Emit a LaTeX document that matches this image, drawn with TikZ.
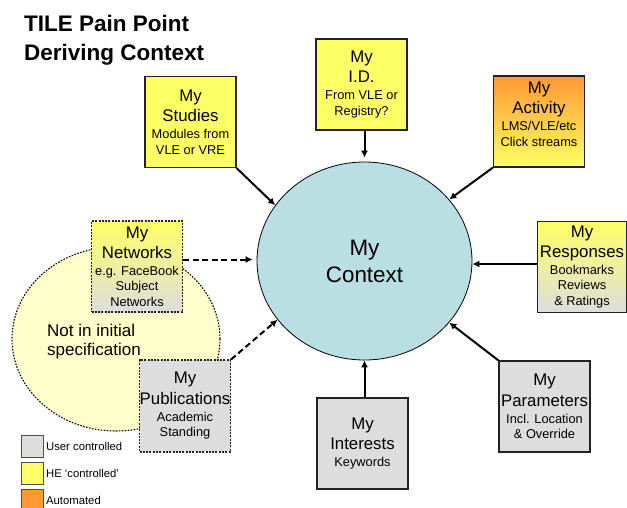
\documentclass[tikz,border=0pt]{standalone}
\usepackage{fontspec}
\setmainfont{Liberation Sans}
\usetikzlibrary{shapes.geometric,arrows.meta}
\definecolor{heyel}{HTML}{FFFF66}
\definecolor{usergray}{HTML}{DDDDDD}
\definecolor{autoor}{HTML}{FF9933}
\definecolor{ctxblue}{HTML}{B9DFE3}
\definecolor{notyel}{HTML}{FFFFCC}
\definecolor{boxline}{HTML}{222222}
\newcommand\BTf{\fontsize{16.8}{20.5}\selectfont}
\newcommand\STf{\fontsize{12.8}{15}\selectfont}
\tikzset{
  ctxbox/.style={draw=boxline, line width=1.1pt, minimum width=91pt, minimum height=91pt,
    inner sep=0pt, align=center, font=\BTf},
  userbox/.style={ctxbox, fill=usergray},
  hebox/.style={ctxbox, fill=heyel},
  autobox/.style={ctxbox, top color=autoor, bottom color=heyel},
  mixbox/.style={ctxbox, top color=heyel, bottom color=usergray},
  dotbox/.style={dash pattern=on 2pt off 1.3pt},
  feed/.style={line width=2pt, -{Latex[length=7pt,width=7pt]}},
  feeddash/.style={feed, dash pattern=on 6pt off 3.5pt},
  legsq/.style={draw=boxline!80, line width=0.9pt, minimum width=22pt, minimum height=22pt, inner sep=0pt},
  leglab/.style={anchor=west, inner sep=0pt, font=\fontsize{11.3}{13}\selectfont}
}
\begin{document}
\begin{tikzpicture}[x=1pt,y=-1pt]
\useasboundingbox (0,0) rectangle (627,507);

% title
\node[anchor=north west, inner sep=0pt, align=left, font=\bfseries\fontsize{22.5}{29}\selectfont] (title) at (24,14.9) {TILE Pain Point\\Deriving Context};

% region not in initial specification
\node[ellipse, draw=black, fill=notyel, line width=1.1pt, dash pattern=on 1.6pt off 1.4pt,
  minimum width=208pt, minimum height=184pt, inner sep=0pt] (future) at (116,339) {};
\node[anchor=north west, align=left, inner sep=0pt, font=\fontsize{17}{19.5}\selectfont] (futuretext) at (47,323.5) {Not in initial\\specification};

% context
\node[ellipse, draw=black, fill=ctxblue, line width=0.8pt, minimum width=215pt, minimum height=198pt,
  inner sep=0pt, align=center, font=\fontsize{22.4}{27}\selectfont] (ctx) at (364.5,261) {My\\Context};

% sources
\node[hebox] (studies) at (190.5,122) {My\\Studies\\[-3.5pt]{\STf Modules from}\\[-5pt]{\STf VLE or VRE}};
\node[hebox] (id) at (361.5,84.5) {My\\I.D.\\[-3.5pt]{\STf From VLE or}\\[-5pt]{\STf Registry?}};
\node[autobox] (activity) at (539,121.5) {My\\Activity\\[-3.5pt]{\STf LMS/VLE/etc}\\[-5pt]{\STf Click streams}\\[-5pt]{\STf\phantom{X}}};
\node[mixbox, dotbox] (networks) at (137,266.5) {My\\Networks\\[-4pt]{\STf e.g. FaceBook}\\[-5pt]{\STf Subject}\\[-5pt]{\STf Networks}};
\node[mixbox, minimum width=89pt] (responses) at (582,267) {My\\Responses\\[-4pt]{\STf Bookmarks}\\[-5pt]{\STf Reviews}\\[-5pt]{\STf \& Ratings}};
\node[userbox, dotbox, minimum height=92pt] (publications) at (185,406) {My\\Publications\\[-3.5pt]{\STf Academic}\\[-5pt]{\STf Standing}};
\node[userbox] (interests) at (362.5,443.5) {My\\Interests\\[-4pt]{\STf Keywords}};
\node[userbox] (parameters) at (544.5,406.5) {My\\Parameters\\[-3.5pt]{\STf Incl. Location}\\[-5pt]{\STf \& Override}};

% connectors
\coordinate (netout) at ([yshift=7pt]networks.east);
\coordinate (respout) at ([yshift=3pt]responses.west);
\draw[feed] (studies.south east) -- (ctx.148);
\draw[feed, shorten >=4pt] (id.south -| ctx.north) -- (ctx.north);
\draw[feed] (activity.south west) -- (ctx.36);
\draw[feeddash, shorten >=4pt] (netout) -- (netout -| ctx.west);
\draw[feed] (respout) -- (respout -| ctx.east);
\draw[feeddash] (publications.north east) -- (ctx.214);
\draw[feed] (interests.north -| ctx.south) -- (ctx.south);
\draw[feed] (parameters.north west) -- (ctx.-36);

% legend
\node[legsq, fill=usergray] (leguser) at (32,446) {};
\node[legsq, fill=heyel] (leghe) at (32,473) {};
\node[legsq, fill=autoor] (legauto) at (32,500) {};
\node[leglab] (leguserlab) at ([xshift=2.5pt]leguser.east) {User controlled};
\node[leglab] (leghelab) at ([xshift=2.5pt]leghe.east) {HE ‘controlled’};
\node[leglab] (legautolab) at ([xshift=2.5pt]legauto.east) {Automated};
\end{tikzpicture}
\end{document}
